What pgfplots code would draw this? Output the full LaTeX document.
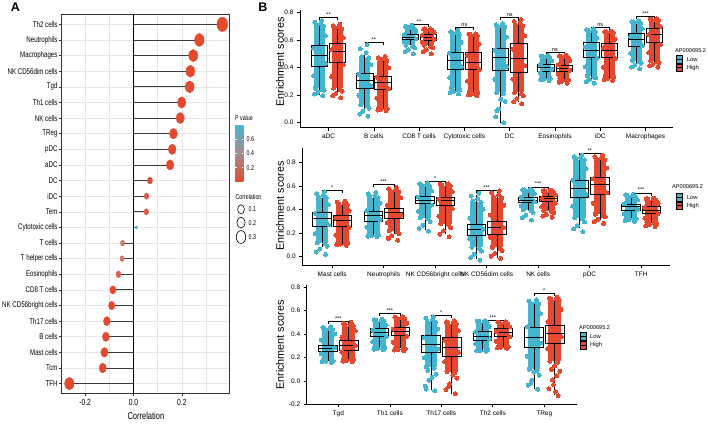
\documentclass[border=0pt]{standalone}
\usepackage{fontspec}
\setmainfont{Liberation Sans}
\newfontfamily\condfont[FakeStretch=0.75]{Liberation Sans}
\usepackage{pgfplots}
\pgfplotsset{compat=1.18}
\usepgfplotslibrary{statistics}
\definecolor{cLow}{HTML}{45B5CF}
\definecolor{cHigh}{HTML}{E4492F}
\definecolor{cR}{HTML}{E2492F}
\definecolor{cEos}{HTML}{D6614F}
\definecolor{cPink}{HTML}{C97A70}
\definecolor{cTem}{HTML}{D95A48}
\definecolor{cDC}{HTML}{DC5240}
\definecolor{cBlueA}{HTML}{4AB4CF}
\definecolor{cMid}{HTML}{A38C92}
\definecolor{stemc}{HTML}{3A3A3A}
\definecolor{gridc}{HTML}{E6E6E6}
\pgfplotsset{
  bax/.style={scale only axis, anchor=south west, axis x line*=bottom, axis y line*=left,
    axis line style={-, black, line width=0.6pt}, tick align=outside, major tick length=3pt,
    tick style={black, line width=0.6pt}, ticklabel style={font=\fontsize{6.5}{7}\selectfont},
    clip=false},
  boxst/.style={draw=black, line width=0.6pt, solid, mark=none, boxplot/draw direction=y, boxplot/box extend=0.36,
    boxplot/whisker extend=0, boxplot/every median/.style={line width=0.9pt}},
  ptL/.style={only marks, mark=*, mark size=2pt, mark options={draw=cLow, line width=0pt, fill=cLow}},
  ptH/.style={only marks, mark=*, mark size=2pt, mark options={draw=cHigh, line width=0pt, fill=cHigh}},
  rcL/.style={fill=cLow, draw=none},
  rcH/.style={fill=cHigh, draw=none},
  brst/.style={black, line width=0.5pt},
}
\tikzset{sigst/.style={anchor=south, inner sep=0.6pt, font=\fontsize{5.5}{6}\selectfont}}
\newcommand{\bx}[6]{\addplot[boxst, boxplot prepared={draw direction=y, draw position=#1, lower whisker=#2, lower quartile=#3, median=#4, upper quartile=#5, upper whisker=#6}] coordinates {};}
\newcommand{\brk}[6]{\addplot[brst] coordinates {(#1,#4)(#1,#3)(#2,#3)(#2,#4)}; \node[sigst] at (axis cs:#5,#3) {#6};}
\newcommand{\lol}[4]{\addplot[only marks, mark=*, color=#4, line width=0.3pt, mark size=#3pt, mark options={solid, xscale=0.75}] coordinates {(#1,#2)};}
\begin{document}
\begin{tikzpicture}
\path[use as bounding box] (0pt,0pt) rectangle (708pt,-425pt);
% ---------------- Panel A ----------------
\node[font=\bfseries\fontsize{12.5}{13}\selectfont] at (15.5pt,-7.5pt) {A};
\begin{axis}[at={(61.7pt,-393pt)}, anchor=south west, scale only axis, width=168.3pt, height=378pt,
  xmin=-0.2966, xmax=0.3986, ymin=0.4, ymax=24.6,
  xtick={-0.2,0,0.2,0.4}, xticklabels={-0.2,0.0,0.2,0.4}, minor xtick={-0.1,0.1,0.3},
  ytick={1,...,24},
  yticklabels={TFH,Tcm,Mast cells,B cells,Th17 cells,NK CD56bright cells,CD8 T cells,Eosinophils,T helper cells,T cells,Cytotoxic cells,Tem,iDC,DC,aDC,pDC,TReg,NK cells,Th1 cells,Tgd,NK CD56dim cells,Macrophages,Neutrophils,Th2 cells},
  grid=both, major grid style={gridc, line width=0.6pt}, minor grid style={gridc, line width=0.5pt},
  tick align=outside, xtick pos=bottom, ytick pos=left, major tick length=2.5pt, minor tick length=0pt,
  tick style={black!80, line width=0.6pt}, axis line style={black!80, line width=1pt},
  yticklabel style={font=\condfont\fontsize{8.2}{9}\selectfont, inner sep=1.5pt},
  xticklabel style={font=\condfont\fontsize{9}{10}\selectfont, yshift=-0.5pt},
  xlabel={Correlation}, xlabel style={font=\condfont\fontsize{10}{11}\selectfont, yshift=1pt}]
\addplot[black, line width=0.8pt] coordinates {(0,0.4) (0,24.6)};
\addplot[xcomb, draw=stemc, line width=0.9pt, mark=none] coordinates {
(-0.265,1)(-0.127,2)(-0.120,3)(-0.114,4)(-0.110,5)(-0.090,6)(-0.085,7)(-0.062,8)(-0.047,9)(-0.045,10)(0.012,11)(0.053,12)
(0.054,13)(0.068,14)(0.151,15)(0.160,16)(0.165,17)(0.193,18)(0.199,19)(0.232,20)(0.235,21)(0.247,22)(0.272,23)(0.367,24)};
\lol{-0.265}{1}{6.3}{cR}
\lol{-0.127}{2}{4.9}{cR}
\lol{-0.120}{3}{4.8}{cR}
\lol{-0.114}{4}{4.7}{cR}
\lol{-0.110}{5}{4.6}{cR}
\lol{-0.090}{6}{4.25}{cR}
\lol{-0.085}{7}{4.1}{cR}
\lol{-0.062}{8}{3.4}{cEos}
\lol{-0.047}{9}{3.0}{cPink}
\lol{-0.045}{10}{3.0}{cPink}
\lol{0.012}{11}{1.75}{cBlueA}
\lol{0.053}{12}{3.15}{cTem}
\lol{0.054}{13}{3.15}{cTem}
\lol{0.068}{14}{3.5}{cDC}
\lol{0.151}{15}{5.15}{cR}
\lol{0.160}{16}{5.25}{cR}
\lol{0.165}{17}{5.3}{cR}
\lol{0.193}{18}{5.6}{cR}
\lol{0.199}{19}{5.65}{cR}
\lol{0.232}{20}{6.0}{cR}
\lol{0.235}{21}{6.0}{cR}
\lol{0.247}{22}{6.15}{cR}
\lol{0.272}{23}{6.4}{cR}
\lol{0.367}{24}{7.25}{cR}
\end{axis}
% legend A
\node[anchor=west, inner sep=0pt, font=\condfont\fontsize{7}{8}\selectfont] at (235pt,-117.7pt) {P value};
\shade[bottom color=cR, top color=cBlueA, middle color=cMid] (235pt,-181.7pt) rectangle (243.3pt,-125pt);
\foreach \yy/\lab in {139.3/0.6,153.3/0.4,167.7/0.2}{
  \draw[white, line width=0.5pt] (235pt,-\yy pt) -- (236.6pt,-\yy pt);
  \draw[white, line width=0.5pt] (241.7pt,-\yy pt) -- (243.3pt,-\yy pt);
  \node[anchor=west, inner sep=0pt, font=\condfont\fontsize{7}{8}\selectfont] at (246.5pt,-\yy pt) {\lab};
}
\node[anchor=west, inner sep=0pt, font=\condfont\fontsize{7}{8}\selectfont] at (235.5pt,-197.3pt) {Correlation};
\draw[line width=0.6pt] (241pt,-209.3pt) ellipse [x radius=3.4pt, y radius=4.5pt];
\draw[line width=0.6pt] (241pt,-222.6pt) ellipse [x radius=4.1pt, y radius=5.5pt];
\draw[line width=0.6pt] (241pt,-237pt) ellipse [x radius=4.8pt, y radius=6.4pt];
\node[anchor=west, inner sep=0pt, font=\condfont\fontsize{7}{8}\selectfont] at (248.5pt,-209.3pt) {0.1};
\node[anchor=west, inner sep=0pt, font=\condfont\fontsize{7}{8}\selectfont] at (248.5pt,-222.6pt) {0.2};
\node[anchor=west, inner sep=0pt, font=\condfont\fontsize{7}{8}\selectfont] at (248.5pt,-237pt) {0.3};
% ---------------- Panel B ----------------
\node[font=\bfseries\fontsize{12.5}{13}\selectfont] at (263pt,-7.5pt) {B};
\node[rotate=90, font=\fontsize{10.8}{11}\selectfont] at (280pt,-62pt) {Enrichment scores};
\node[rotate=90, font=\fontsize{10.8}{11}\selectfont] at (280pt,-206pt) {Enrichment scores};
\node[rotate=90, font=\fontsize{10.8}{11}\selectfont] at (280pt,-345pt) {Enrichment scores};
% ---- plot 1
\begin{axis}[bax, at={(300pt,-127.7pt)}, width=372.7pt, height=117.7pt,
  xmin=-0.63, xmax=7.6, ymin=-0.036, ymax=0.816,
  xtick={0,...,7}, xticklabels={aDC,B cells,CD8 T cells,Cytotoxic cells,DC,Eosinophils,iDC,Macrophages},
  ytick={0,0.2,0.4,0.6,0.8}, yticklabels={0.0,0.2,0.4,0.6,0.8}]
\addplot[rcL] coordinates {(-0.32,.25)(-0.08,.25)(-0.08,.70)(-0.32,.70)};
\addplot[ptL] coordinates {(-0.27,.71)(-0.11,.70)(-0.17,.716)(-0.30,.728)(-0.15,.74)(-0.14,.24)(-0.29,.25)(-0.10,.234)(-0.24,.22)(-0.31,.207)(-0.13,.196)(-0.33,.34)(-0.07,.43)(-0.33,.54)(-0.07,.63)};
\addplot[rcH] coordinates {(0.08,.25)(0.32,.25)(0.32,.68)(0.08,.68)};
\addplot[ptH] coordinates {(0.13,.69)(0.29,.68)(0.23,.693)(0.10,.703)(0.25,.713)(0.26,.24)(0.11,.25)(0.30,.229)(0.16,.212)(0.09,.194)(0.27,.18)(0.07,.336)(0.33,.422)(0.07,.53)(0.33,.616)};
\addplot[rcL] coordinates {(0.68,.13)(0.92,.13)(0.92,.47)(0.68,.47)};
\addplot[ptL] coordinates {(0.73,.48)(0.89,.47)(0.83,.508)(0.70,.537)(0.85,.565)(0.86,.12)(0.71,.13)(0.90,.105)(0.76,.084)(0.69,.063)(0.87,.046)(0.67,.198)(0.93,.266)(0.67,.351)(0.93,.419)};
\addplot[rcH] coordinates {(1.08,.11)(1.32,.11)(1.32,.45)(1.08,.45)};
\addplot[ptH] coordinates {(1.13,.46)(1.29,.45)(1.23,.462)(1.10,.471)(1.25,.48)(1.26,.10)(1.11,.11)(1.30,.103)(1.16,.097)(1.09,.092)(1.27,.087)(1.07,.178)(1.33,.246)(1.07,.331)(1.33,.399)};
\addplot[rcL] coordinates {(1.68,.56)(1.92,.56)(1.92,.68)(1.68,.68)};
\addplot[ptL] coordinates {(1.73,.69)(1.89,.68)(1.83,.69)(1.70,.698)(1.85,.705)(1.86,.55)(1.71,.56)(1.90,.542)(1.76,.527)(1.69,.512)(1.87,.50)(1.67,.584)(1.93,.608)(1.67,.638)(1.93,.662)};
\addplot[rcH] coordinates {(2.08,.56)(2.32,.56)(2.32,.67)(2.08,.67)};
\addplot[ptH] coordinates {(2.13,.68)(2.29,.67)(2.23,.674)(2.10,.677)(2.25,.68)(2.26,.55)(2.11,.56)(2.30,.542)(2.16,.527)(2.09,.512)(2.27,.50)(2.07,.582)(2.33,.604)(2.07,.632)(2.33,.654)};
\addplot[rcL] coordinates {(2.68,.25)(2.92,.25)(2.92,.64)(2.68,.64)};
\addplot[ptL] coordinates {(2.73,.65)(2.89,.64)(2.83,.652)(2.70,.66)(2.85,.669)(2.86,.24)(2.71,.25)(2.90,.238)(2.76,.227)(2.69,.217)(2.87,.209)(2.67,.328)(2.93,.406)(2.67,.504)(2.93,.582)};
\addplot[rcH] coordinates {(3.08,.22)(3.32,.22)(3.32,.63)(3.08,.63)};
\addplot[ptH] coordinates {(3.13,.64)(3.29,.63)(3.23,.636)(3.10,.641)(3.25,.645)(3.26,.21)(3.11,.22)(3.30,.213)(3.16,.207)(3.09,.201)(3.27,.196)(3.07,.302)(3.33,.384)(3.07,.487)(3.33,.569)};
\addplot[rcL] coordinates {(3.68,.22)(3.92,.22)(3.92,.69)(3.68,.69)};
\addplot[ptL] coordinates {(3.73,.70)(3.89,.69)(3.83,.701)(3.70,.71)(3.85,.718)(3.86,.21)(3.71,.22)(3.90,.154)(3.76,.099)(3.69,.044)(3.87,.0)(3.67,.314)(3.93,.408)(3.67,.526)(3.93,.62)(3.80,.17)(3.72,.085)};
\addplot[rcH] coordinates {(4.08,.22)(4.32,.22)(4.32,.70)(4.08,.70)};
\addplot[ptH] coordinates {(4.13,.71)(4.29,.70)(4.23,.719)(4.10,.733)(4.25,.747)(4.26,.21)(4.11,.22)(4.30,.195)(4.16,.174)(4.09,.153)(4.27,.136)(4.07,.316)(4.33,.412)(4.07,.532)(4.33,.628)};
\addplot[rcL] coordinates {(4.68,.33)(4.92,.33)(4.92,.47)(4.68,.47)};
\addplot[ptL] coordinates {(4.73,.48)(4.89,.47)(4.83,.477)(4.70,.482)(4.85,.487)(4.86,.32)(4.71,.33)(4.90,.323)(4.76,.316)(4.69,.31)(4.87,.305)(4.67,.358)(4.93,.386)(4.67,.421)(4.93,.449)};
\addplot[rcH] coordinates {(5.08,.32)(5.32,.32)(5.32,.47)(5.08,.47)};
\addplot[ptH] coordinates {(5.13,.48)(5.29,.47)(5.23,.478)(5.10,.484)(5.25,.49)(5.26,.31)(5.11,.32)(5.30,.31)(5.16,.301)(5.09,.293)(5.27,.286)(5.07,.35)(5.33,.38)(5.07,.418)(5.33,.448)};
\addplot[rcL] coordinates {(5.68,.34)(5.92,.34)(5.92,.66)(5.68,.66)};
\addplot[ptL] coordinates {(5.73,.67)(5.89,.66)(5.83,.668)(5.70,.675)(5.85,.681)(5.86,.33)(5.71,.34)(5.90,.324)(5.76,.31)(5.69,.297)(5.87,.286)(5.67,.404)(5.93,.468)(5.67,.548)(5.93,.612)};
\addplot[rcH] coordinates {(6.08,.34)(6.32,.34)(6.32,.65)(6.08,.65)};
\addplot[ptH] coordinates {(6.13,.66)(6.29,.65)(6.23,.656)(6.10,.66)(6.25,.664)(6.26,.33)(6.11,.34)(6.30,.33)(6.16,.321)(6.09,.312)(6.27,.305)(6.07,.402)(6.33,.464)(6.07,.542)(6.33,.604)};
\addplot[rcL] coordinates {(6.68,.45)(6.92,.45)(6.92,.72)(6.68,.72)};
\addplot[ptL] coordinates {(6.73,.73)(6.89,.72)(6.83,.727)(6.70,.732)(6.85,.737)(6.86,.44)(6.71,.45)(6.90,.432)(6.76,.417)(6.69,.402)(6.87,.39)(6.67,.504)(6.93,.558)(6.67,.626)(6.93,.68)};
\addplot[rcH] coordinates {(7.08,.45)(7.32,.45)(7.32,.74)(7.08,.74)};
\addplot[ptH] coordinates {(7.13,.75)(7.29,.74)(7.23,.746)(7.10,.75)(7.25,.754)(7.26,.44)(7.11,.45)(7.30,.436)(7.16,.424)(7.09,.412)(7.27,.402)(7.07,.508)(7.33,.566)(7.07,.639)(7.33,.697)};
\bx{-0.2}{.20}{.41}{.487}{.56}{.74}
\bx{0.2}{.20}{.434}{.519}{.577}{.713}
\bx{0.8}{.09}{.25}{.305}{.361}{.52}
\bx{1.2}{.10}{.245}{.293}{.337}{.48}
\bx{1.8}{.56}{.605}{.62}{.638}{.68}
\bx{2.2}{.55}{.60}{.62}{.638}{.68}
\bx{2.8}{.22}{.385}{.451}{.511}{.67}
\bx{3.2}{.20}{.385}{.439}{.511}{.645}
\bx{3.8}{.0}{.383}{.471}{.536}{.72}
\bx{4.2}{.15}{.366}{.468}{.572}{.75}
\bx{4.8}{.31}{.371}{.402}{.42}{.49}
\bx{5.2}{.30}{.371}{.395}{.415}{.49}
\bx{5.8}{.30}{.471}{.524}{.58}{.68}
\bx{6.2}{.31}{.471}{.524}{.572}{.66}
\bx{6.8}{.42}{.555}{.604}{.645}{.74}
\bx{7.2}{.43}{.584}{.638}{.681}{.75}
\brk{-0.2}{0.2}{0.761}{0.741}{0}{**}
\brk{0.8}{1.2}{0.58}{0.56}{1}{**}
\brk{1.8}{2.2}{0.713}{0.693}{2}{**}
\brk{2.8}{3.2}{0.689}{0.669}{3}{ns}
\brk{3.8}{4.2}{0.766}{0.746}{4}{ns}
\brk{4.8}{5.2}{0.507}{0.487}{5}{ns}
\brk{5.8}{6.2}{0.693}{0.673}{6}{ns}
\brk{6.8}{7.2}{0.771}{0.751}{7}{***}
\end{axis}
% ---- plot 2
\begin{axis}[bax, at={(302.3pt,-265pt)}, width=367.7pt, height=116.7pt,
  xmin=-0.58, xmax=6.56, ymin=-0.07, ymax=0.919,
  xtick={0,...,6}, xticklabels={Mast cells,Neutrophils,NK CD56bright cells,NK CD56dim cells,NK cells,pDC,TFH},
  ytick={0,0.2,0.4,0.6,0.8}, yticklabels={0.0,0.2,0.4,0.6,0.8}]
\addplot[rcL] coordinates {(-0.32,.12)(-0.08,.12)(-0.08,.50)(-0.32,.50)};
\addplot[ptL] coordinates {(-0.27,.51)(-0.11,.50)(-0.17,.52)(-0.30,.536)(-0.15,.551)(-0.14,.11)(-0.29,.12)(-0.10,.09)(-0.24,.065)(-0.31,.04)(-0.13,.02)(-0.33,.196)(-0.07,.272)(-0.33,.367)(-0.07,.443)};
\addplot[rcH] coordinates {(0.08,.12)(0.32,.12)(0.32,.44)(0.08,.44)};
\addplot[ptH] coordinates {(0.13,.45)(0.29,.44)(0.23,.453)(0.10,.462)(0.25,.472)(0.26,.11)(0.11,.12)(0.30,.113)(0.16,.107)(0.09,.101)(0.27,.096)(0.07,.184)(0.33,.248)(0.07,.328)(0.33,.392)};
\addplot[rcL] coordinates {(0.68,.19)(0.92,.19)(0.92,.50)(0.68,.50)};
\addplot[ptL] coordinates {(0.73,.51)(0.89,.50)(0.83,.518)(0.70,.532)(0.85,.545)(0.86,.18)(0.71,.19)(0.90,.184)(0.76,.179)(0.69,.174)(0.87,.17)(0.67,.252)(0.93,.314)(0.67,.392)(0.93,.454)};
\addplot[rcH] coordinates {(1.08,.22)(1.32,.22)(1.32,.55)(1.08,.55)};
\addplot[ptH] coordinates {(1.13,.56)(1.29,.55)(1.23,.565)(1.10,.577)(1.25,.588)(1.26,.21)(1.11,.22)(1.30,.196)(1.16,.176)(1.09,.156)(1.27,.14)(1.07,.286)(1.33,.352)(1.07,.435)(1.33,.501)};
\addplot[rcL] coordinates {(1.68,.33)(1.92,.33)(1.92,.60)(1.68,.60)};
\addplot[ptL] coordinates {(1.73,.61)(1.89,.60)(1.83,.611)(1.70,.619)(1.85,.627)(1.86,.32)(1.71,.33)(1.90,.296)(1.76,.268)(1.69,.24)(1.87,.218)(1.67,.384)(1.93,.438)(1.67,.506)(1.93,.56)};
\addplot[rcH] coordinates {(2.08,.28)(2.32,.28)(2.32,.60)(2.08,.60)};
\addplot[ptH] coordinates {(2.13,.61)(2.29,.60)(2.23,.608)(2.10,.614)(2.25,.62)(2.26,.27)(2.11,.28)(2.30,.247)(2.16,.22)(2.09,.192)(2.27,.17)(2.07,.344)(2.33,.408)(2.07,.488)(2.33,.552)};
\addplot[rcL] coordinates {(2.68,.08)(2.92,.08)(2.92,.46)(2.68,.46)};
\addplot[ptL] coordinates {(2.73,.47)(2.89,.46)(2.83,.491)(2.70,.514)(2.85,.537)(2.86,.07)(2.71,.08)(2.90,.048)(2.76,.021)(2.69,-.006)(2.87,-.028)(2.67,.156)(2.93,.232)(2.67,.327)(2.93,.403)};
\addplot[rcH] coordinates {(3.08,.08)(3.32,.08)(3.32,.50)(3.08,.50)};
\addplot[ptH] coordinates {(3.13,.51)(3.29,.50)(3.23,.524)(3.10,.542)(3.25,.56)(3.26,.07)(3.11,.08)(3.30,.052)(3.16,.028)(3.09,.005)(3.27,-.014)(3.07,.164)(3.33,.248)(3.07,.353)(3.33,.437)};
\addplot[rcL] coordinates {(3.68,.40)(3.92,.40)(3.92,.56)(3.68,.56)};
\addplot[ptL] coordinates {(3.73,.57)(3.89,.56)(3.83,.564)(3.70,.568)(3.85,.571)(3.86,.39)(3.71,.40)(3.90,.373)(3.76,.351)(3.69,.329)(3.87,.311)(3.67,.432)(3.93,.464)(3.67,.504)(3.93,.536)};
\addplot[rcH] coordinates {(4.08,.39)(4.32,.39)(4.32,.55)(4.08,.55)};
\addplot[ptH] coordinates {(4.13,.56)(4.29,.55)(4.23,.556)(4.10,.56)(4.25,.565)(4.26,.38)(4.11,.39)(4.30,.373)(4.16,.359)(4.09,.345)(4.27,.334)(4.07,.422)(4.33,.454)(4.07,.494)(4.33,.526)};
\addplot[rcL] coordinates {(4.68,.33)(4.92,.33)(4.92,.82)(4.68,.82)};
\addplot[ptL] coordinates {(4.73,.83)(4.89,.82)(4.83,.837)(4.70,.849)(4.85,.862)(4.86,.32)(4.71,.33)(4.90,.295)(4.76,.265)(4.69,.236)(4.87,.212)(4.67,.428)(4.93,.526)(4.67,.649)(4.93,.747)};
\addplot[rcH] coordinates {(5.08,.36)(5.32,.36)(5.32,.82)(5.08,.82)};
\addplot[ptH] coordinates {(5.13,.83)(5.29,.82)(5.23,.837)(5.10,.849)(5.25,.862)(5.26,.35)(5.11,.36)(5.30,.337)(5.16,.318)(5.09,.298)(5.27,.283)(5.07,.452)(5.33,.544)(5.07,.659)(5.33,.751)};
\addplot[rcL] coordinates {(5.68,.33)(5.92,.33)(5.92,.51)(5.68,.51)};
\addplot[ptL] coordinates {(5.73,.52)(5.89,.51)(5.83,.518)(5.70,.525)(5.85,.531)(5.86,.32)(5.71,.33)(5.90,.32)(5.76,.312)(5.69,.304)(5.87,.297)(5.67,.366)(5.93,.402)(5.67,.447)(5.93,.483)};
\addplot[rcH] coordinates {(6.08,.29)(6.32,.29)(6.32,.48)(6.08,.48)};
\addplot[ptH] coordinates {(6.13,.49)(6.29,.48)(6.23,.487)(6.10,.492)(6.25,.497)(6.26,.28)(6.11,.29)(6.30,.279)(6.16,.27)(6.09,.261)(6.27,.254)(6.07,.328)(6.33,.366)(6.07,.414)(6.33,.452)};
\bx{-0.2}{.08}{.26}{.325}{.379}{.55}
\bx{0.2}{.11}{.26}{.308}{.35}{.47}
\bx{0.8}{.18}{.302}{.35}{.387}{.53}
\bx{1.2}{.19}{.322}{.373}{.41}{.56}
\bx{1.8}{.23}{.452}{.48}{.509}{.62}
\bx{2.2}{.19}{.435}{.478}{.503}{.61}
\bx{2.8}{-.02}{.184}{.232}{.274}{.52}
\bx{3.2}{-.01}{.19}{.249}{.302}{.53}
\bx{3.8}{.40}{.458}{.48}{.503}{.57}
\bx{4.2}{.40}{.472}{.495}{.509}{.56}
\bx{4.8}{.24}{.503}{.58}{.65}{.86}
\bx{5.2}{.31}{.531}{.616}{.673}{.86}
\bx{5.8}{.33}{.396}{.424}{.447}{.51}
\bx{6.2}{.29}{.368}{.396}{.424}{.49}
\brk{-0.2}{0.2}{0.565}{0.54}{0}{*}
\brk{0.8}{1.2}{0.613}{0.588}{1}{***}
\brk{1.8}{2.2}{0.636}{0.611}{2}{*}
\brk{2.8}{3.2}{0.565}{0.54}{3}{***}
\brk{3.8}{4.2}{0.593}{0.568}{4}{***}
\brk{4.8}{5.2}{0.876}{0.851}{5}{**}
\brk{5.8}{6.2}{0.542}{0.517}{6}{***}
\end{axis}
% ---- plot 3
\begin{axis}[bax, at={(306.7pt,-404.3pt)}, width=270pt, height=119.3pt,
  xmin=-0.614, xmax=4.63, ymin=-0.2, ymax=0.82,
  xtick={0,...,4}, xticklabels={Tgd,Th1 cells,Th17 cells,Th2 cells,TReg},
  ytick={-0.2,0,0.2,0.4,0.6,0.8}, yticklabels={-0.2,0.0,0.2,0.4,0.6,0.8}]
\addplot[rcL] coordinates {(-0.32,.18)(-0.08,.18)(-0.08,.44)(-0.32,.44)};
\addplot[ptL] coordinates {(-0.27,.45)(-0.11,.44)(-0.17,.45)(-0.30,.457)(-0.15,.464)(-0.14,.17)(-0.29,.18)(-0.10,.173)(-0.24,.167)(-0.31,.162)(-0.13,.157)(-0.33,.232)(-0.07,.284)(-0.33,.349)(-0.07,.401)};
\addplot[rcH] coordinates {(0.08,.19)(0.32,.19)(0.32,.47)(0.08,.47)};
\addplot[ptH] coordinates {(0.13,.48)(0.29,.47)(0.23,.482)(0.10,.492)(0.25,.501)(0.26,.18)(0.11,.19)(0.30,.183)(0.16,.176)(0.09,.17)(0.27,.165)(0.07,.246)(0.33,.302)(0.07,.372)(0.33,.428)};
\addplot[rcL] coordinates {(0.68,.29)(0.92,.29)(0.92,.51)(0.68,.51)};
\addplot[ptL] coordinates {(0.73,.52)(0.89,.51)(0.83,.517)(0.70,.522)(0.85,.527)(0.86,.28)(0.71,.29)(0.90,.283)(0.76,.276)(0.69,.27)(0.87,.265)(0.67,.334)(0.93,.378)(0.67,.433)(0.93,.477)};
\addplot[rcH] coordinates {(1.08,.28)(1.32,.28)(1.32,.53)(1.08,.53)};
\addplot[ptH] coordinates {(1.13,.54)(1.29,.53)(1.23,.538)(1.10,.544)(1.25,.55)(1.26,.27)(1.11,.28)(1.30,.274)(1.16,.268)(1.09,.263)(1.27,.259)(1.07,.33)(1.33,.38)(1.07,.443)(1.33,.493)};
\addplot[rcL] coordinates {(1.68,.12)(1.92,.12)(1.92,.50)(1.68,.50)};
\addplot[ptL] coordinates {(1.73,.51)(1.89,.50)(1.83,.52)(1.70,.535)(1.85,.55)(1.86,.11)(1.71,.12)(1.90,.058)(1.76,.007)(1.69,-.044)(1.87,-.085)(1.67,.196)(1.93,.272)(1.67,.367)(1.93,.443)(1.74,.09)(1.82,.03)(1.71,-.07)};
\addplot[rcH] coordinates {(2.08,.08)(2.32,.08)(2.32,.49)(2.08,.49)};
\addplot[ptH] coordinates {(2.13,.50)(2.29,.49)(2.23,.499)(2.10,.506)(2.25,.513)(2.26,.07)(2.11,.08)(2.30,.023)(2.16,-.025)(2.09,-.073)(2.27,-.111)(2.07,.162)(2.33,.244)(2.07,.347)(2.33,.429)(2.22,.05)(2.14,-.05)};
\addplot[rcL] coordinates {(2.68,.27)(2.92,.27)(2.92,.50)(2.68,.50)};
\addplot[ptL] coordinates {(2.73,.51)(2.89,.50)(2.83,.506)(2.70,.511)(2.85,.516)(2.86,.26)(2.71,.27)(2.90,.265)(2.76,.261)(2.69,.257)(2.87,.254)(2.67,.316)(2.93,.362)(2.67,.42)(2.93,.466)};
\addplot[rcH] coordinates {(3.08,.30)(3.32,.30)(3.32,.49)(3.08,.49)};
\addplot[ptH] coordinates {(3.13,.50)(3.29,.49)(3.23,.497)(3.10,.502)(3.25,.507)(3.26,.29)(3.11,.30)(3.30,.294)(3.16,.288)(3.09,.283)(3.27,.279)(3.07,.338)(3.33,.376)(3.07,.424)(3.33,.462)};
\addplot[rcL] coordinates {(3.68,.10)(3.92,.10)(3.92,.66)(3.68,.66)};
\addplot[ptL] coordinates {(3.73,.67)(3.89,.66)(3.83,.673)(3.70,.682)(3.85,.692)(3.86,.09)(3.71,.10)(3.90,.049)(3.76,.006)(3.69,-.037)(3.87,-.071)(3.67,.212)(3.93,.324)(3.67,.464)(3.93,.576)(3.80,.075)(3.74,-.02)};
\addplot[rcH] coordinates {(4.08,.17)(4.32,.17)(4.32,.69)(4.08,.69)};
\addplot[ptH] coordinates {(4.13,.70)(4.29,.69)(4.23,.70)(4.10,.708)(4.25,.715)(4.26,.16)(4.11,.17)(4.30,.082)(4.16,.008)(4.09,-.066)(4.27,-.125)(4.07,.274)(4.33,.378)(4.07,.508)(4.33,.612)(4.20,.13)(4.14,.10)(4.24,.045)(4.18,-.03)(4.22,-.09)};
\bx{-0.2}{.17}{.25}{.279}{.308}{.46}
\bx{0.2}{.18}{.259}{.302}{.345}{.50}
\bx{0.8}{.28}{.379}{.413}{.45}{.52}
\bx{1.2}{.28}{.39}{.427}{.459}{.55}
\bx{1.8}{-.08}{.242}{.308}{.393}{.52}
\bx{2.2}{-.11}{.214}{.288}{.373}{.51}
\bx{2.8}{.26}{.345}{.379}{.421}{.51}
\bx{3.2}{.29}{.379}{.416}{.45}{.50}
\bx{3.8}{-.07}{.288}{.37}{.459}{.69}
\bx{4.2}{-.12}{.322}{.402}{.473}{.71}
\brk{-0.2}{0.2}{0.513}{0.488}{0}{***}
\brk{0.8}{1.2}{0.578}{0.553}{1}{***}
\brk{1.8}{2.2}{0.564}{0.539}{2}{*}
\brk{2.8}{3.2}{0.521}{0.496}{3}{***}
\brk{3.8}{4.2}{0.75}{0.725}{4}{*}
\end{axis}
% ---- legends B
\foreach \lx/\ty in {675/51, 672/186.7, 579/327.3}{
  \node[anchor=west, inner sep=0pt, font=\fontsize{5.6}{6}\selectfont] at (\lx pt,-\ty pt) {AP000695.2};
}
\foreach \kx/\ky in {676.7/55.3, 676.7/193.3, 580/332.7}{
  \draw[fill=cLow, line width=0.5pt] (\kx pt,-\ky pt) rectangle ++(6pt,-7.6pt);
  \draw[line width=0.6pt] (\kx pt,-\ky pt-3.8pt) -- ++(6pt,0pt);
  \draw[fill=cHigh, line width=0.5pt] (\kx pt,-\ky pt-8.6pt) rectangle ++(6pt,-7.6pt);
  \draw[line width=0.6pt] (\kx pt,-\ky pt-12.4pt) -- ++(6pt,0pt);
  \node[anchor=west, inner sep=0pt, font=\fontsize{5.8}{6}\selectfont] at (\kx pt+10pt,-\ky pt-3.8pt) {Low};
  \node[anchor=west, inner sep=0pt, font=\fontsize{5.8}{6}\selectfont] at (\kx pt+10pt,-\ky pt-12.4pt) {High};
}
\end{tikzpicture}
\end{document}
